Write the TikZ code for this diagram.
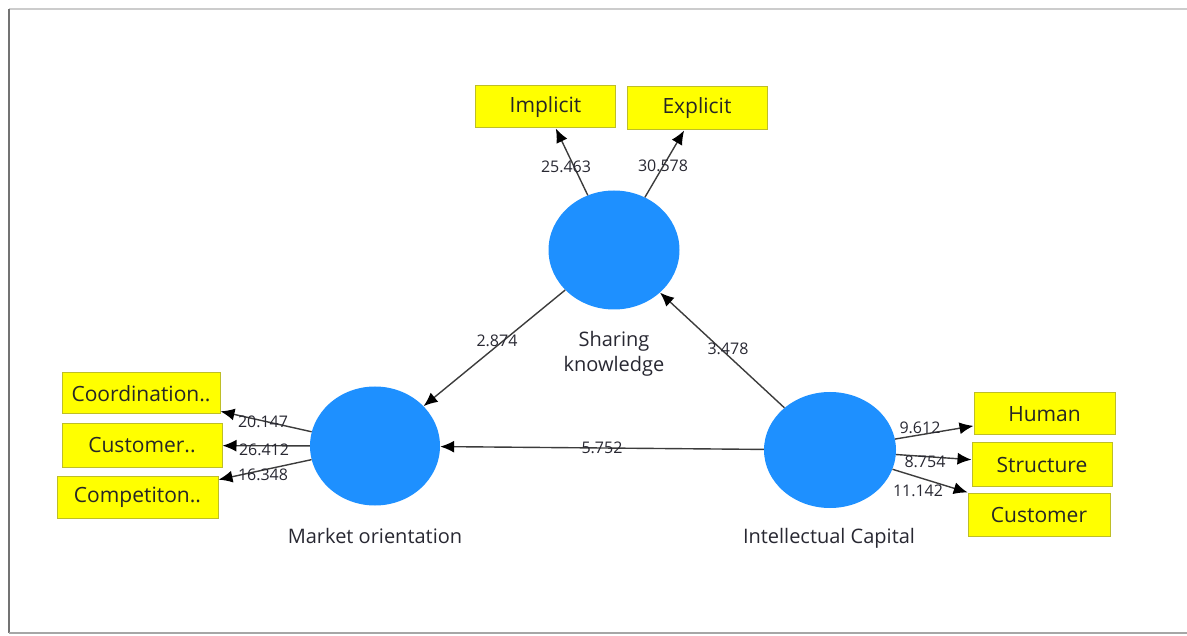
\documentclass[tikz,border=0pt]{standalone}
\usepackage{fontspec}
\setmainfont{Open Sans}
\usetikzlibrary{shapes.geometric,arrows.meta}
\definecolor{lv}{RGB}{30,144,255}
\definecolor{ind}{RGB}{255,255,0}
\definecolor{indb}{RGB}{190,190,40}
\definecolor{ln}{RGB}{60,60,60}
\definecolor{tx}{RGB}{40,40,50}
\tikzset{
  latent/.style={ellipse, fill=lv, draw=none, inner sep=0pt},
  indic/.style={rectangle, fill=ind, draw=indb, line width=1pt, inner sep=0pt, font=\fontsize{21}{24}\selectfont, text=black!85},
  lvlabel/.style={font=\fontsize{20}{25}\selectfont, text=tx, align=center, inner sep=0pt},
  coef/.style={font=\fontsize{16}{18}\selectfont, text=tx, inner sep=0pt},
  arr/.style={draw=ln, line width=1.4pt, -{Latex[length=14pt,width=12pt,color=black]}}
}
\begin{document}
\begin{tikzpicture}[x=1pt,y=-1pt]
\useasboundingbox (0,0) rectangle (1187,636);
\begin{scope}
\clip (0,0) rectangle (1187,636);
% frame
\draw[black!20, line width=1.2pt] (1195,9) -- (9,9);
\draw[black!55, line width=2.5pt] (9,9) -- (9,633);
\draw[black!35, line width=2pt] (9,633) -- (1195,633);
\end{scope}
% latent variables
\node[latent, minimum width=131pt, minimum height=119pt] (sk) at (614,250) {};
\node[latent, minimum width=130pt, minimum height=119pt] (mo) at (375,446) {};
\node[latent, minimum width=132pt, minimum height=116pt] (ic) at (830,450) {};
\node[lvlabel] (skl) at (614,354) {Sharing\\knowledge};
\node[lvlabel] (mol) at (375,536) {Market orientation};
\node[lvlabel] (icl) at (829,538) {Intellectual Capital};
% indicators
\node[indic, minimum width=140pt, minimum height=42pt] (imp) at (545.5,107) {Implicit};
\node[indic, minimum width=140pt, minimum height=43pt] (exp) at (697,108.5) {Explicit};
\node[indic, minimum width=158pt, minimum height=41pt] (coo) at (141,393.5) {Coordination..};
\node[indic, minimum width=160pt, minimum height=43pt] (cus) at (142,445.5) {Customer..};
\node[indic, minimum width=161pt, minimum height=42pt] (com) at (137.5,497) {Competiton..};
\node[indic, minimum width=141pt, minimum height=42pt] (hum) at (1044.5,414) {Human};
\node[indic, minimum width=140pt, minimum height=43pt] (str) at (1042,464.5) {Structure};
\node[indic, minimum width=142pt, minimum height=43pt] (cu2) at (1039,514.5) {Customer};
% connectors
\draw[arr] (sk) -- (imp);
\draw[arr] (sk) -- (exp);
\draw[arr] (sk) -- (mo);
\draw[arr] (ic) -- (sk);
\draw[arr] (ic) -- (mo);
\draw[arr] (mo) -- (coo);
\draw[arr] (mo) -- (cus);
\draw[arr] (mo) -- (com);
\draw[arr] (ic) -- (hum);
\draw[arr] (ic) -- (str);
\draw[arr] (ic) -- (cu2);
% coefficients
\node[coef] (c1) at (566,167) {25.463};
\node[coef] (c2) at (663,166) {30.578};
\node[coef] (c3) at (497,341) {2.874};
\node[coef] (c4) at (728,349) {3.478};
\node[coef] (c5) at (602,448) {5.752};
\node[coef] (c6) at (263,422) {20.147};
\node[coef] (c7) at (264,450) {26.412};
\node[coef] (c8) at (263,475) {16.348};
\node[coef] (c9) at (920,428) {9.612};
\node[coef] (c10) at (925,462) {8.754};
\node[coef] (c11) at (918,491) {11.142};
\end{tikzpicture}
\end{document}
